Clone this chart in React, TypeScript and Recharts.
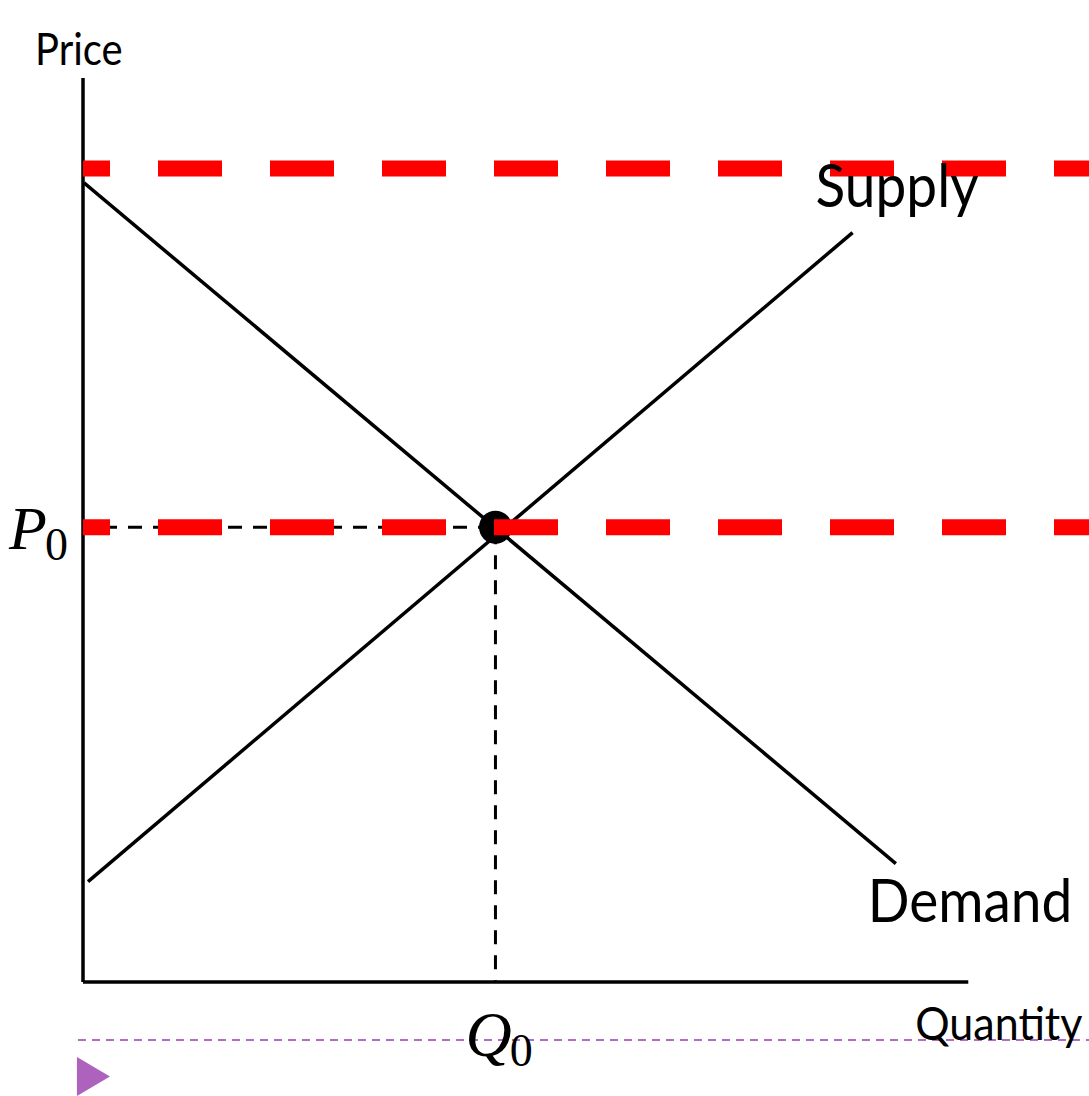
import React from 'react';
import { ComposedChart, Line, XAxis, YAxis, ReferenceLine, ReferenceDot } from 'recharts';

const W = 1089;
const H = 1096;

// chart units: quantity 0..100, price 0..100
const quantityRange = [0, 100];
const priceRange = [0, 100];
const demandQ = [0.1, 80.8];
const demandP = [88.4, 13.1];
const supplyQ = [0.5, 76.5];
const supplyP = [11.1, 82.9];
const Q0 = 41;
const P0 = 50.3;
const ceilingPrice = 90;
const priceAxisTop = 100;
const quantityAxisEnd = 88;

const pts = (qs: number[], ps: number[]) => qs.map((q, i) => ({ q, p: ps[i] }));
const demand = pts(demandQ, demandP);
const supply = pts(supplyQ, supplyP);
const guideH = pts([0, Q0], [P0, P0]);
const guideV = pts([Q0, Q0], [P0, 0]);
const equilibrium = pts([Q0, Q0], [P0, P0]);
const redTop = pts(quantityRange, [ceilingPrice, ceilingPrice]);
const redMid = pts(quantityRange, [P0, P0]);

const sans = 'Lato, "Open Sans", sans-serif';
const serif = '"Liberation Serif", "DejaVu Serif", serif';

const textShape = (content: React.ReactNode, dx: number, dy: number, size: number, family: string, stretch = 1) =>
  (props: any) => (
    <text
      transform={`translate(${props.cx + dx},${props.cy + dy}) scale(1,${stretch})`}
      x={0}
      y={0}
      fontSize={size}
      fontFamily={family}
      fill="#000"
      textAnchor="start"
    >
      {content}
    </text>
  );

const Triangle = (props: any) => (
  <polygon
    points={`${props.cx},${props.cy - 19.5} ${props.cx},${props.cy + 19.5} ${props.cx + 33},${props.cy}`}
    fill="#ad63bd"
  />
);

export default function App() {
  return (
    <div style={{ position: 'absolute', left: 0, top: 0, width: W, height: H, background: '#fff' }}>
      <ComposedChart width={W} height={H} margin={{ left: 83, right: 0, top: 78, bottom: 114 }}>
        <XAxis type="number" dataKey="q" domain={quantityRange} allowDataOverflow hide />
        <YAxis type="number" dataKey="p" domain={priceRange} allowDataOverflow hide />

        <ReferenceLine
          segment={[{ x: 0, y: 0 }, { x: 0, y: priceAxisTop }]}
          stroke="#000"
          strokeWidth={3.5}
          ifOverflow="visible"
        />
        <ReferenceLine
          segment={[{ x: 0, y: 0 }, { x: quantityAxisEnd, y: 0 }]}
          stroke="#000"
          strokeWidth={3.5}
          ifOverflow="visible"
        />
        <ReferenceLine
          segment={[{ x: -0.5, y: -6.42 }, { x: 100, y: -6.42 }]}
          stroke="#b36bc4"
          strokeWidth={2}
          strokeDasharray="8 6"
          ifOverflow="visible"
        />
        <ReferenceDot x={-0.6} y={-10.45} r={1} ifOverflow="visible" shape={Triangle} />

        <Line data={demand} dataKey="p" stroke="#000" strokeWidth={3.5} dot={false} isAnimationActive={false} />
        <Line data={supply} dataKey="p" stroke="#000" strokeWidth={3.5} dot={false} isAnimationActive={false} />
        <Line data={guideH} dataKey="p" stroke="#000" strokeWidth={3} strokeDasharray="14 11" strokeDashoffset={5} dot={false} isAnimationActive={false} />
        <Line data={guideV} dataKey="p" stroke="#000" strokeWidth={3} strokeDasharray="14 11" strokeDashoffset={-3} dot={false} isAnimationActive={false} />
        <Line data={equilibrium} dataKey="p" stroke="#000" strokeWidth={33} strokeLinecap="round" dot={false} isAnimationActive={false} />
        <Line data={redTop} dataKey="p" stroke="#ff0000" strokeWidth={16} strokeDasharray="64 48" strokeDashoffset={37} dot={false} isAnimationActive={false} />
        <Line data={redMid} dataKey="p" stroke="#ff0000" strokeWidth={16} strokeDasharray="64 48" strokeDashoffset={37} dot={false} isAnimationActive={false} />

        <ReferenceDot x={0} y={priceAxisTop} r={1} ifOverflow="visible" shape={textShape('Price', -48, -13, 40, sans, 1.1)} />
        <ReferenceDot x={quantityAxisEnd} y={0} r={1} ifOverflow="visible" shape={textShape('Quantity', -53, 58, 43, sans, 1.1)} />
        <ReferenceDot x={supplyQ[1]} y={supplyP[1]} r={1} ifOverflow="visible" shape={textShape('Supply', -37, -26, 55, sans, 1.1)} />
        <ReferenceDot x={demandQ[1]} y={demandP[1]} r={1} ifOverflow="visible" shape={textShape('Demand', -28, 58, 55, sans, 1.1)} />
        <ReferenceDot
          x={0}
          y={P0}
          r={1}
          ifOverflow="visible"
          shape={textShape(
            <>
              <tspan fontStyle="italic" fontSize={62}>P</tspan>
              <tspan fontStyle="normal" fontSize={46} dx={-2} dy={11}>0</tspan>
            </>,
            -74, 22, 62, serif
          )}
        />
        <ReferenceDot
          x={Q0}
          y={0}
          r={1}
          ifOverflow="visible"
          shape={textShape(
            <>
              <tspan fontStyle="italic" fontSize={64}>Q</tspan>
              <tspan fontStyle="normal" fontSize={46} dx={-2} dy={10}>0</tspan>
            </>,
            -30, 74, 64, serif
          )}
        />
      </ComposedChart>
    </div>
  );
}
